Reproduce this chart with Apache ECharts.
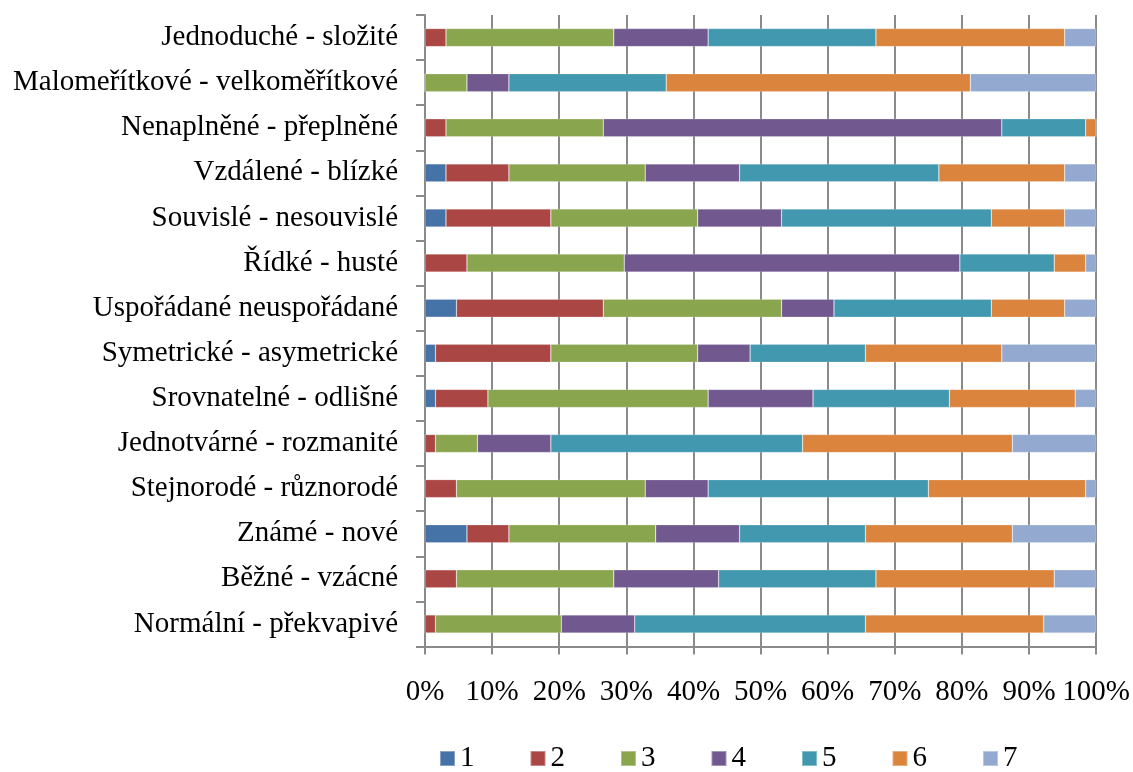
<!DOCTYPE html>
<html>
<head>
<meta charset="utf-8">
<script src="https://cdn.jsdelivr.net/npm/echarts@6/dist/echarts.min.js"></script>
<style>
html,body{margin:0;padding:0;background:#fff;}
#chart{width:1133px;height:772px;}
</style>
</head>
<body>
<div id="chart"></div>
<script>
// Categories (top to bottom)
const categories = [
  "Jednoduché - složité",
  "Malomeřítkové - velkoměřítkové",
  "Nenaplněné - přeplněné",
  "Vzdálené - blízké",
  "Souvislé - nesouvislé",
  "Řídké - husté",
  "Uspořádané neuspořádané",
  "Symetrické - asymetrické",
  "Srovnatelné - odlišné",
  "Jednotvárné - rozmanité",
  "Stejnorodé - různorodé",
  "Známé - nové",
  "Běžné - vzácné",
  "Normální - překvapivé"
];
const seriesNames = ["1","2","3","4","5","6","7"];
// Response counts per category, one array per scale value
const s1 = [0,0,0,2,2,0,3,1,1,0,0,4,0,0];
const s2 = [2,0,2,6,10,4,14,11,5,1,3,4,3,1];
const s3 = [16,4,15,13,14,15,17,14,21,4,18,14,15,12];
const s4 = [9,4,38,9,8,32,5,5,10,7,6,8,10,7];
const s5 = [16,15,8,19,20,9,15,11,13,24,21,12,15,22];
const s6 = [18,29,1,12,7,3,7,13,12,20,15,14,17,17];
const s7 = [3,12,0,3,3,1,3,9,2,8,1,8,4,5];
const xTicks = ["0%","10%","20%","30%","40%","50%","60%","70%","80%","90%","100%"];
const colors = ["#4572A7","#AA4643","#89A54E","#71588F","#4198AF","#DB843D","#93A9CF"];

const raw = [s1,s2,s3,s4,s5,s6,s7];
const totals = categories.map((c,i)=>raw.reduce((a,s)=>a+s[i],0));
const FONT = "'Liberation Serif','Times New Roman',serif";

const chart = echarts.init(document.getElementById('chart'), null, {renderer:'canvas'});
chart.setOption({
  animation:false,
  backgroundColor:'#fff',
  color:colors,
  textStyle:{fontFamily:FONT},
  grid:{left:425, right:32, top:15, bottom:125.5, containLabel:false},
  legend:{
    data:seriesNames,
    left:439, top:744, padding:0,
    itemWidth:15, itemHeight:15, itemGap:55,
    icon:'rect',
    textStyle:{fontFamily:FONT, fontSize:29, color:'#000'}
  },
  xAxis:{
    type:'value', min:0, max:100, interval:10,
    axisLine:{show:true, lineStyle:{color:'#8a8a8a', width:2}},
    axisTick:{show:true, inside:false, length:8, lineStyle:{color:'#8a8a8a', width:2}},
    splitLine:{show:true, lineStyle:{color:'#8a8a8a', width:2}},
    axisLabel:{
      margin:31, fontSize:29, fontFamily:FONT, color:'#000',
      formatter:(v)=>xTicks[Math.round(v/10)]
    }
  },
  yAxis:{
    type:'category', data:categories, inverse:true,
    axisLine:{show:true, lineStyle:{color:'#8a8a8a', width:2}},
    axisTick:{show:true, inside:false, length:9, lineStyle:{color:'#8a8a8a', width:2}},
    axisLabel:{margin:27, fontSize:29, fontFamily:FONT, color:'#000'}
  },
  series: seriesNames.map((n,k)=>({
    name:n, type:'bar', stack:'total', barCategoryGap:'60%',
    itemStyle:{color:colors[k], borderColor:'rgba(255,255,255,0.35)', borderWidth:0.6},
    data: raw[k].map((v,i)=> v/totals[i]*100)
  }))
});
</script>
</body>
</html>
